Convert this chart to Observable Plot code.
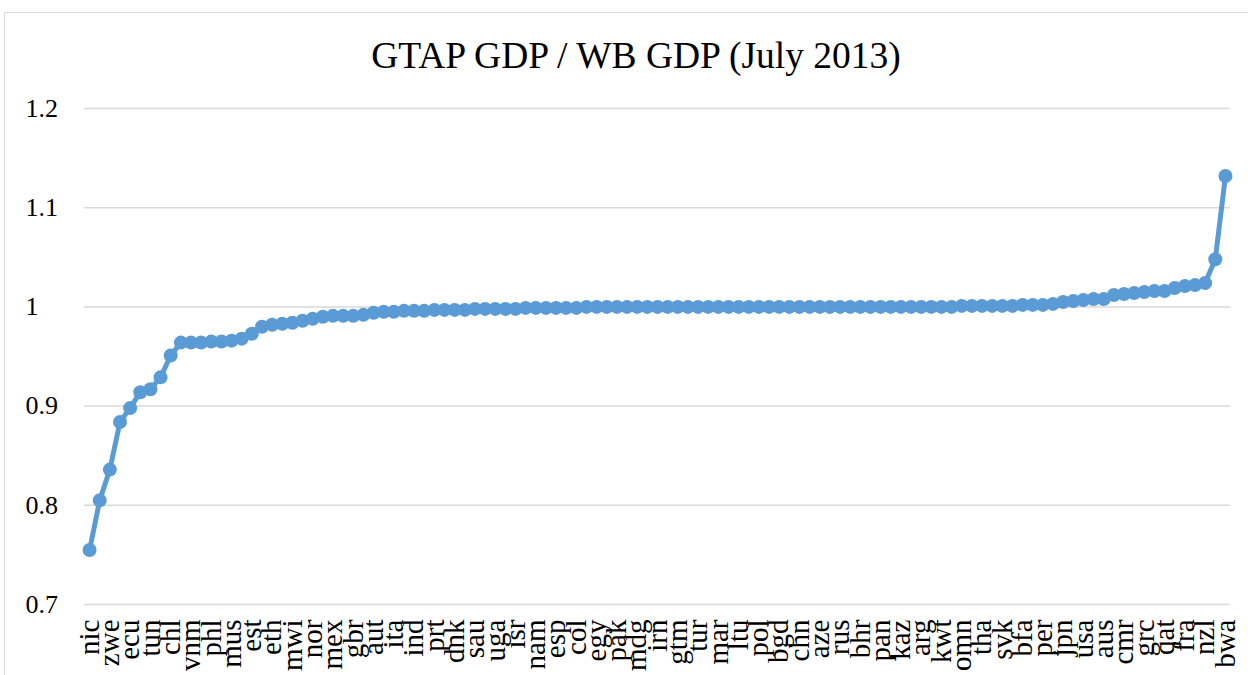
<!DOCTYPE html>
<html><head><meta charset="utf-8">
<script src="https://cdn.jsdelivr.net/npm/d3@7"></script>
<script src="https://cdn.jsdelivr.net/npm/@observablehq/plot@0.6"></script>
<style>
html,body{margin:0;padding:0;background:#fff;}
body{width:1248px;height:675px;overflow:hidden;position:relative;font-family:"Liberation Serif",serif;}
#frame{position:absolute;left:4px;top:12px;width:1300px;height:700px;border-left:1.5px solid #d9d9d9;border-top:1.5px solid #d9d9d9;}
#title{position:absolute;left:0;width:1272px;top:38px;text-align:center;font-size:37.5px;line-height:36px;color:#000;white-space:nowrap;}
#chart{position:absolute;left:0;top:80px;}
#chart svg text{font-family:"Liberation Serif",serif;}
</style>
</head><body>
<div id="frame"></div>
<div id="title">GTAP GDP / WB GDP (July 2013)</div>
<div id="chart"></div>
<script>
// tick labels shown on the x axis (every other point is labelled)
const xLabels = ["nic","zwe","ecu","tun","chl","vnm","phl","mus","est","eth",
  "mwi","nor","mex","gbr","aut","ita","ind","prt","dnk","sau",
  "uga","isr","nam","esp","col","egy","pak","mdg","irn","gtm",
  "tur","mar","ltu","pol","bgd","chn","aze","rus","bhr","pan",
  "kaz","arg","kwt","omn","tha","svk","bfa","per","jpn","usa",
  "aus","cmr","grc","qat","fra","nzl","bwa"];

// ratio values, sorted ascending (113 regions)
const values = [
  0.755, 0.805, 0.836, 0.884, 0.898, 0.914, 0.917, 0.929, 0.951, 0.964,
  0.964, 0.964, 0.965, 0.965, 0.966, 0.968, 0.973, 0.980, 0.982, 0.983,
  0.984, 0.986, 0.988, 0.990, 0.991, 0.991, 0.991, 0.992, 0.994, 0.995,
  0.995, 0.996, 0.996, 0.996, 0.997, 0.997, 0.997, 0.997, 0.998, 0.998,
  0.998, 0.998, 0.998, 0.999, 0.999, 0.999, 0.999, 0.999, 0.999, 1.000,
  1.000, 1.000, 1.000, 1.000, 1.000, 1.000, 1.000, 1.000, 1.000, 1.000,
  1.000, 1.000, 1.000, 1.000, 1.000, 1.000, 1.000, 1.000, 1.000, 1.000,
  1.000, 1.000, 1.000, 1.000, 1.000, 1.000, 1.000, 1.000, 1.000, 1.000,
  1.000, 1.000, 1.000, 1.000, 1.000, 1.000, 1.001, 1.001, 1.001, 1.001,
  1.001, 1.001, 1.002, 1.002, 1.002, 1.003, 1.005, 1.006, 1.007, 1.008,
  1.008, 1.012, 1.013, 1.014, 1.015, 1.016, 1.016, 1.019, 1.021, 1.022,
  1.024, 1.048, 1.132
];

const yTicks = [0.7, 0.8, 0.9, 1, 1.1, 1.2];

const idx = d3.range(values.length);
const data = values.map((v, i) => ({i, v}));
const labelledIdx = idx.filter(i => i % 2 === 0);

const color = "#5B9BD5";
const font = "Liberation Serif";

const chart = Plot.plot({
  width: 1248,
  height: 595,
  marginTop: 28,
  marginBottom: 71,
  marginLeft: 84,
  marginRight: 18,
  x: {type: "point", domain: idx, padding: 0.5, round: false, axis: null, label: null},
  y: {domain: [0.7, 1.2], axis: null, label: null},
  style: {fontFamily: font, background: "transparent", color: "#000", overflow: "visible"},
  marks: [
    Plot.gridY(yTicks, {stroke: "#d9d9d9", strokeOpacity: 1, strokeWidth: 1.5}),
    Plot.axisY(yTicks, {label: null, tickSize: 0, tickPadding: 3, tickFormat: d => String(d), textAnchor: "start", dx: -56, fontSize: 26, fontFamily: font, fill: "#000"}),
    Plot.axisX(labelledIdx, {label: null, tickSize: 0, tickPadding: 15, tickRotate: -90, tickFormat: i => xLabels[i / 2], fontSize: 29, fontFamily: font, fill: "#000"}),
    Plot.line(data, {x: "i", y: "v", stroke: color, strokeWidth: 5}),
    Plot.dot(data, {x: "i", y: "v", r: 7, fill: color})
  ]
});
document.getElementById("chart").appendChild(chart);
</script>
</body></html>
